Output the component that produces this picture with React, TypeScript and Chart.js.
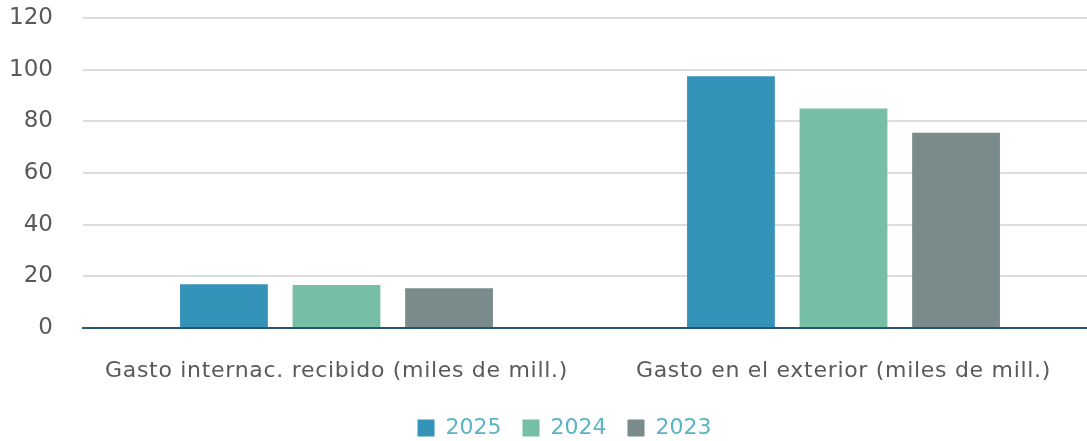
import React, { useEffect, useRef } from "react";
import { Chart, registerables } from "chart.js";

Chart.register(...registerables);

const categories = [
  "Gasto internac. recibido (miles de mill.)",
  "Gasto en el exterior (miles de mill.)",
];
const seriesLabels = ["2025", "2024", "2023"];
const values2025 = [16.9, 97.5];
const values2024 = [16.6, 85.0];
const values2023 = [15.4, 75.6];
const yTicks = [0, 20, 40, 60, 80, 100, 120];
const colors = ["#3593BA", "#76BEA6", "#7A8B8C"];

const FONT = "'DejaVu Sans', sans-serif";

export default function App() {
  const ref = useRef<HTMLCanvasElement | null>(null);

  useEffect(() => {
    document.body.style.margin = "0";
    document.body.style.overflow = "hidden";
    if (!ref.current) return;
    const tweaks = {
      id: "tweaks",
      afterLayout(chart: any) {
        const l = chart.legend;
        if (l) {
          l.left += 16;
          l.right += 16;
          l.top += 10;
          l.bottom += 10;
        }
      },
      afterDatasetsDraw(chart: any) {
        (chart.ctx as any).letterSpacing = "0.7px";
      },
      afterDraw(chart: any) {
        (chart.ctx as any).letterSpacing = "0px";
      },
    };
    const chart = new Chart(ref.current, {
      type: "bar",
      data: {
        labels: categories,
        datasets: [values2025, values2024, values2023].map((d, i) => ({
          label: seriesLabels[i],
          data: d,
          backgroundColor: colors[i],
          borderWidth: 0,
          categoryPercentage: 0.666,
          barPercentage: 0.78,
        })),
      },
      options: {
        animation: false,
        responsive: false,
        maintainAspectRatio: false,
        layout: { padding: { top: 18, left: 0, right: 0, bottom: 2 } },
        plugins: {
          tooltip: { enabled: false },
          legend: {
            position: "bottom",
            labels: {
              boxWidth: 17,
              boxHeight: 17,
              padding: 21,
              color: "#5AB4C5",
              font: { family: FONT, size: 22 },
            },
          },
        },
        scales: {
          x: {
            grid: {
              display: true,
              drawOnChartArea: false,
              drawTicks: true,
              tickLength: 28,
              tickColor: "rgba(0,0,0,0)",
              color: "rgba(0,0,0,0)",
            },
            border: { display: true, color: "#275670", width: 2 },
            ticks: {
              color: "#595959",
              font: { family: FONT, size: 22 },
              padding: 2,
              z: 1,
            },
            afterFit: (s: any) => {
              s.height = 58;
            },
          },
          y: {
            min: 0,
            max: 120,
            afterBuildTicks: (s: any) => {
              s.ticks = yTicks.map((v) => ({ value: v }));
            },
            grid: {
              color: "#DCDCDC",
              lineWidth: 2,
              drawTicks: true,
              tickLength: 28,
              tickColor: "rgba(0,0,0,0)",
            },
            border: { display: false },
            ticks: {
              color: "#595959",
              font: { family: FONT, size: 23 },
              padding: 2,
            },
            afterFit: (s: any) => {
              s.width = 83;
            },
          },
        },
      },
      plugins: [tweaks],
    });
    return () => chart.destroy();
  }, []);

  return (
    <div style={{ width: 1087, height: 441, overflow: "hidden" }}>
      <canvas ref={ref} width={1097} height={441} style={{ display: "block" }} />
    </div>
  );
}
